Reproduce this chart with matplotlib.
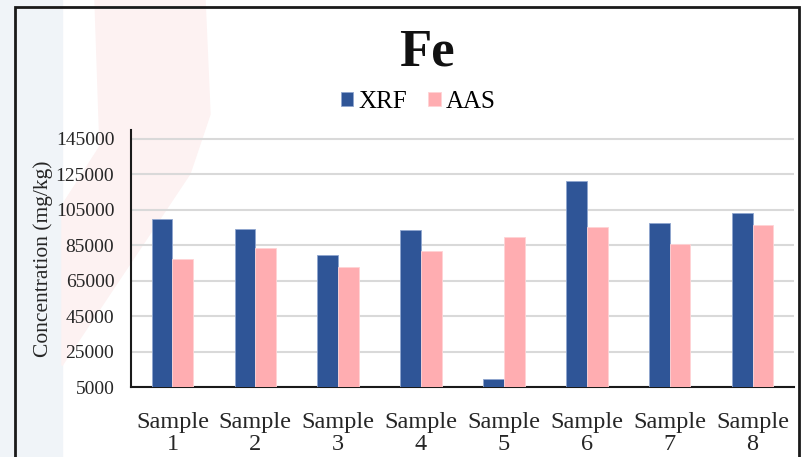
import matplotlib.pyplot as plt
import numpy as np
from matplotlib.patches import Rectangle, Polygon

samples = ["Sample\n1", "Sample\n2", "Sample\n3", "Sample\n4",
           "Sample\n5", "Sample\n6", "Sample\n7", "Sample\n8"]
xrf = [99800, 94200, 79500, 93800, 9500, 121400, 97400, 103000]
aas = [77300, 83500, 72600, 81800, 89700, 95100, 85700, 96300]
y_ticks = [5000, 25000, 45000, 65000, 85000, 105000, 125000, 145000]

plt.rcParams["font.family"] = ["Liberation Serif", "DejaVu Serif"]

fig = plt.figure(figsize=(8.03, 4.57), dpi=100)

# faint watermark behind the chart
fig.patches.append(Rectangle((0, 0), 62 / 803, 1, transform=fig.transFigure,
                             color="#f0f4f8", zorder=-10))
fig.patches.append(Polygon([(95 / 803, 1), (205 / 803, 1), (210 / 803, 0.75),
                            (190 / 803, 0.62), (62 / 803, 0.2), (62 / 803, 0.55),
                            (100 / 803, 0.68)],
                           transform=fig.transFigure, color="#fdf2f2", zorder=-9))

# outer chart frame
fig.patches.append(Rectangle((15 / 803, -0.1), 784 / 803, 1.1 - 7 / 457,
                             transform=fig.transFigure, fill=False,
                             edgecolor="#1a1a1a", linewidth=2, zorder=5))

ax = fig.add_axes([131 / 803, 1 - 387.3 / 457, 663 / 803, 257.3 / 457])
ax.patch.set_alpha(0)

x = np.arange(len(samples))
w = 0.25
ax.bar(x - w / 2, np.array(xrf) - 5000, w, bottom=5000, color="#2f5597",
       edgecolor="#8fa6cf", linewidth=0.6, label="XRF", zorder=3)
ax.bar(x + w / 2, np.array(aas) - 5000, w, bottom=5000, color="#ffadb1",
       edgecolor="#ffd3d5", linewidth=0.6, label="AAS", zorder=3)

ax.set_xlim(-0.5, len(samples) - 0.5)
ax.set_ylim(5000, 150000)
ax.set_yticks(y_ticks)
ax.set_yticklabels([str(v) for v in y_ticks], fontsize=14)
ax.set_xticks(x)
ax.set_xticklabels(samples, fontsize=17.5, linespacing=1.05)
ax.tick_params(axis="both", length=0, colors="#262626")
ax.tick_params(axis="y", pad=12)
ax.tick_params(axis="x", pad=18)
ax.yaxis.grid(True, color="#d9d9d9", linewidth=1.5, zorder=0)
for s in ["top", "right"]:
    ax.spines[s].set_visible(False)
ax.spines["left"].set_color("#1a1a1a")
ax.spines["bottom"].set_color("#1a1a1a")
ax.spines["left"].set_linewidth(1.5)
ax.spines["bottom"].set_linewidth(1.5)
ax.set_ylabel("Concentration (mg/kg)", fontsize=15.5, color="#262626", labelpad=2)

fig.text(0.532, 1 - 53 / 457, "Fe", ha="center", va="center",
         fontsize=38, fontweight="bold", color="#111111")
fig.legend(loc="center", bbox_to_anchor=(0.521, 1 - 102 / 457), ncol=2,
           frameon=False, fontsize=18, handlelength=0.5, handleheight=0.5,
           columnspacing=0.85, handletextpad=0.2)

fig.savefig("out.png", dpi=100)
